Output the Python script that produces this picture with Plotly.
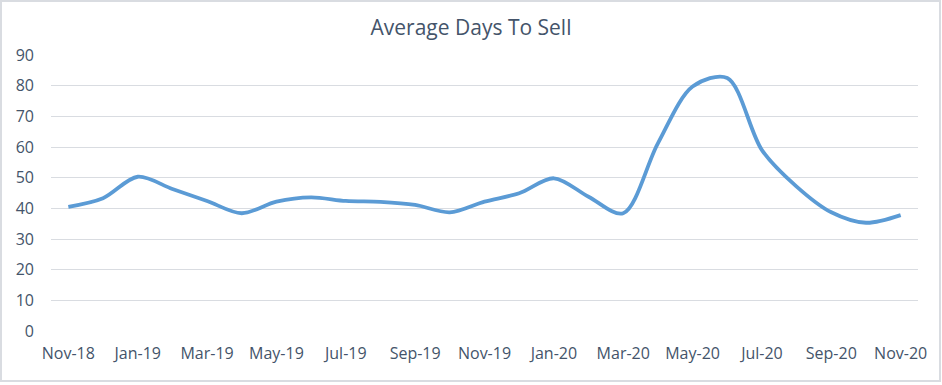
import plotly.graph_objects as go

months = ["Nov-18","Dec-18","Jan-19","Feb-19","Mar-19","Apr-19","May-19","Jun-19","Jul-19",
          "Aug-19","Sep-19","Oct-19","Nov-19","Dec-19","Jan-20","Feb-20","Mar-20","Apr-20",
          "May-20","Jun-20","Jul-20","Aug-20","Sep-20","Oct-20","Nov-20"]
days = [40.5, 43.3, 50.3, 46.3, 42.4, 38.4, 42.2, 43.6, 42.4, 42.1, 41.1, 38.7, 42.2,
        44.9, 49.8, 43.8, 38.4, 61.2, 79.7, 82.5, 59.0, 47.1, 38.7, 35.3, 37.8]
tick_labels = months[::2]
y_ticks = list(range(0, 100, 10))

W, H = 942, 385
ml, mr, mt, mb = 51, 24, 55, 54
pw, ph = W - ml - mr, H - mt - mb
text_color = "#44546A"

fig = go.Figure()
fig.add_trace(go.Scatter(
    x=list(range(len(months))), y=days, mode="lines",
    line=dict(color="#5B9BD5", width=3.8, shape="spline", smoothing=0.9),
    hoverinfo="skip", showlegend=False))

fig.update_layout(
    width=W, height=H,
    margin=dict(l=ml, r=mr, t=mt, b=mb, autoexpand=False),
    paper_bgcolor="white", plot_bgcolor="white",
    font=dict(family="Open Sans, Noto Sans, sans-serif", color=text_color, size=16),
    title=dict(text="Average Days To Sell", x=0.5, xanchor="center",
               y=1 - 28 / H, yanchor="middle",
               font=dict(size=21, color=text_color)),
    xaxis=dict(range=[-0.5, len(months) - 0.5], tickmode="array",
               tickvals=list(range(0, len(months), 2)), ticktext=tick_labels,
               showgrid=False, zeroline=False, showline=False, ticks="",
               ticklabelstandoff=11, fixedrange=True, automargin=False),
    yaxis=dict(range=[0, 90], tickmode="array", tickvals=y_ticks,
               showgrid=True, gridcolor="#D9DCE1", gridwidth=1.2, zeroline=False,
               showline=False, ticks="", ticklabelstandoff=16, fixedrange=True,
               automargin=False),
    shapes=[dict(type="rect", xref="paper", yref="paper",
                 x0=(1 - ml) / pw, x1=(940 - ml) / pw,
                 y0=(H - mb - 381) / ph, y1=(H - mb - 1) / ph,
                 line=dict(color="#D9DCE1", width=2), layer="below")],
)
fig.write_html("out.html", config={"displayModeBar": False},
               post_script="document.body.style.margin='0';document.body.style.padding='0';")
